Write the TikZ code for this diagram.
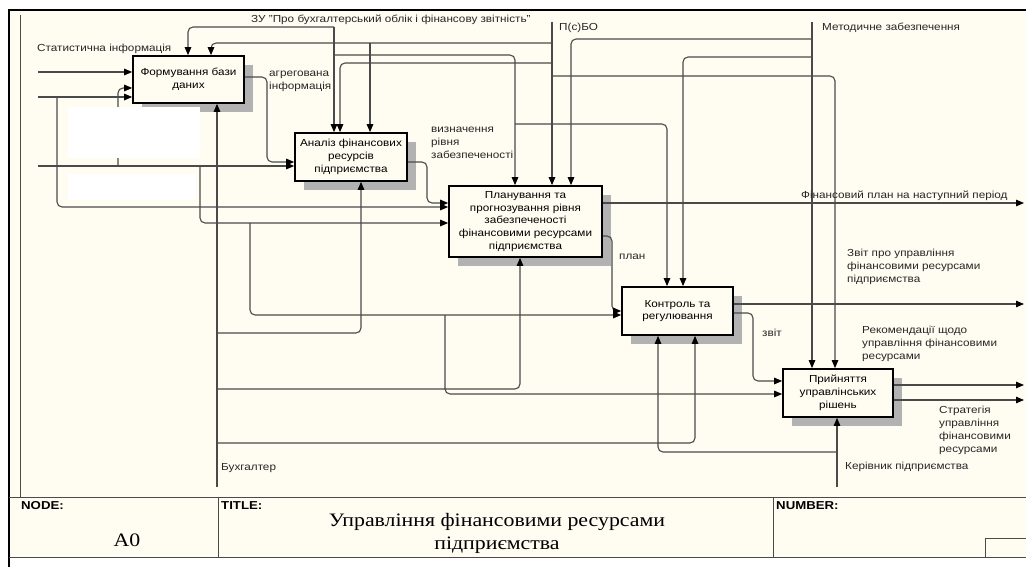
\documentclass[tikz,border=0pt]{standalone}
\usepackage{fontspec}
\setmainfont{Liberation Sans}[FakeStretch=1.15]
\newfontfamily\titlefont{Liberation Serif}[FakeStretch=1.15]
\usetikzlibrary{arrows.meta, shadows}
\definecolor{cPaper}{HTML}{FFFCF1}
\definecolor{cLine}{HTML}{4A4A4A}
\definecolor{cShadow}{HTML}{B2B2B2}
\tikzset{
  font=\fontsize{10.2}{12.5}\selectfont,
  func/.style={draw=black, line width=1.7pt, fill=cPaper, align=center,
    inner sep=2pt, font=\fontsize{10.2}{12.8}\selectfont,
    drop shadow={shadow xshift=9pt, shadow yshift=-9pt, fill=cShadow, opacity=1}},
  flow/.style={draw=cLine, line width=1.1pt, rounded corners=5pt,
    -{Triangle[length=8pt, width=6.5pt, black]}},
  lbl/.style={inner sep=0pt, align=left, text=black!85, font=\fontsize{10.2}{13}\selectfont},
  frame/.style={draw=black, line width=2.2pt},
  innerframe/.style={draw=cLine, line width=0.8pt},
  blockline/.style={draw=cLine, line width=1pt},
  caption/.style={inner sep=0pt, font=\bfseries\fontsize{11.5}{13}\selectfont},
  titletext/.style={inner sep=0pt, align=center, font=\titlefont\fontsize{19}{23}\selectfont},
  redact/.style={fill=white, draw=none},
}

\begin{document}
\begin{tikzpicture}[x=1pt, y=-1pt]

  \useasboundingbox (0,0) rectangle (1026,567);

  % ----------------------------------------------------------------
  % Sheet
  % ----------------------------------------------------------------
  \fill[cPaper] (9,10) rectangle (1026,557);
  \draw[frame] (9,567) -- (9,10) -- (1026,10);
  \draw[innerframe] (20,15) -- (20,497);

  % ----------------------------------------------------------------
  % Functions A1..A5
  % ----------------------------------------------------------------
  \node[func, minimum width=111pt, minimum height=47pt] (dbase) at (188.5,79.5)
    {Формування бази\\ даних};
  \node[func, minimum width=112pt, minimum height=48pt] (analysis) at (351,157)
    {Аналіз фінансових\\ ресурсів\\ підприємства};
  \node[func, minimum width=153pt, minimum height=71pt] (planning) at (525.5,221.5)
    {Планування та\\ прогнозування рівня\\ забезпеченості\\ фінансовими ресурсами\\ підприємства};
  \node[func, minimum width=111pt, minimum height=48pt] (control) at (677.5,311)
    {Контроль та\\ регулювання};
  \node[func, minimum width=110pt, minimum height=48pt] (decision) at (838,393)
    {Прийняття\\ управлінських\\ рішень};

  % ----------------------------------------------------------------
  % Inputs
  % ----------------------------------------------------------------
  \coordinate (statin) at (38,72);
  \coordinate (secin) at (38,97);
  \coordinate (capin) at (38,166);
  \coordinate (secfork) at (57,97);
  \coordinate (capup) at (118,166);
  \coordinate (capdown) at (200,166);
  \coordinate (ctrlfork) at (250,223);
  \coordinate (decfork) at (445,315);

  \draw[flow] (statin) -- (dbase.west |- statin);
  \draw[flow] (secin) -- (dbase.west |- secin);
  \draw[flow] (secfork) |- (planning.west |- 0,207);
  \draw[flow] (capin) -- (analysis.west |- capin);
  \draw[flow] (capup) |- (dbase.west |- 0,88);
  \draw[flow] (capdown) |- (planning.west |- 0,223);
  \draw[flow] (ctrlfork) |- (control.west |- 0,315);
  \draw[flow] (decfork) |- (decision.west |- 0,394);

  % ----------------------------------------------------------------
  % Flows between functions
  % ----------------------------------------------------------------
  \draw[flow] (dbase.east |- 0,77) -- (267,77) -- (267,162) -- (analysis.west |- 0,162);
  \draw[flow] (analysis.east |- 0,162) -- (427,162) -- (427,203) -- (planning.west |- 0,203);
  \draw[flow] (planning.east |- 0,236) -- (612,236) -- (612,311) -- (control.west |- 0,311);
  \draw[flow] (control.east |- 0,313) -- (753,313) -- (753,381) -- (decision.west |- 0,381);

  % ----------------------------------------------------------------
  % Outputs
  % ----------------------------------------------------------------
  \coordinate (planout) at (1024,203);
  \coordinate (reportout) at (1024,304);
  \coordinate (recout) at (1024,385);
  \coordinate (stratout) at (1024,400);

  \draw[flow] (planning.east |- planout) -- (planout);
  \draw[flow] (control.east |- reportout) -- (reportout);
  \draw[flow] (decision.east |- recout) -- (recout);
  \draw[flow] (decision.east |- stratout) -- (stratout);

  % ----------------------------------------------------------------
  % Controls
  % ----------------------------------------------------------------
  \coordinate (zuin) at (334,27);
  \coordinate (zufork) at (334,55);
  \coordinate (zufork2) at (515,124);
  \draw[flow] (zuin) -- (analysis.north -| zuin);
  \draw[flow] (zuin) -| (dbase.north -| 188,0);
  \draw[flow] (zufork) -| (planning.north -| 515,0);
  \draw[flow] (zufork2) -| (control.north -| 667,0);

  \coordinate (psboin) at (552,22);
  \coordinate (psbofork1) at (552,43);
  \coordinate (psbofork2) at (370,43);
  \coordinate (psbofork3) at (552,63);
  \coordinate (psbofork4) at (552,76);
  \draw[flow] (psboin) -- (planning.north -| psboin);
  \draw[flow] (psbofork1) -| (dbase.north -| 211,0);
  \draw[flow] (psbofork2) -- (analysis.north -| psbofork2);
  \draw[flow] (psbofork3) -| (analysis.north -| 340,0);
  \draw[flow] (psbofork4) -| (decision.north -| 835,0);

  \coordinate (metin) at (812,22);
  \coordinate (metfork1) at (812,39);
  \coordinate (metfork2) at (812,57);
  \draw[flow] (metin) -- (decision.north -| metin);
  \draw[flow] (metfork1) -| (planning.north -| 571,0);
  \draw[flow] (metfork2) -| (control.north -| 683,0);

  % ----------------------------------------------------------------
  % Mechanisms
  % ----------------------------------------------------------------
  \coordinate (buhin) at (217,487);
  \coordinate (buhfork1) at (217,333);
  \coordinate (buhfork2) at (217,389);
  \coordinate (buhfork3) at (217,443);
  \draw[flow] (buhin) -- (dbase.south -| buhin);
  \draw[flow] (buhfork1) -| (analysis.south -| 361,0);
  \draw[flow] (buhfork2) -| (planning.south -| 520,0);
  \draw[flow] (buhfork3) -| (control.south -| 695,0);

  \coordinate (kerin) at (837,487);
  \coordinate (kerfork) at (837,452);
  \draw[flow] (kerin) -- (decision.south -| kerin);
  \draw[flow] (kerfork) -| (control.south -| 658,0);

  % hidden labels
  \fill[redact] (68,107) rectangle (200,158);
  \fill[redact] (68,174) rectangle (196,200);

  % ----------------------------------------------------------------
  % Arrow labels
  % ----------------------------------------------------------------
  \node[lbl, anchor=west] (statlbl) at (37,49) {Статистична інформація};
  \node[lbl, anchor=west] (zulbl) at (251,20) {ЗУ "Про бухгалтерський облік і фінансову звітність"};
  \node[lbl, anchor=west] (psbolbl) at (559,28) {П(с)БО};
  \node[lbl, anchor=west] (metlbl) at (822,28) {Методичне забезпечення};
  \node[lbl, anchor=north west] (agrlbl) at (269,71) {агрегована\\ інформація};
  \node[lbl, anchor=north west] (vyzlbl) at (431,127) {визначення\\ рівня\\ забезпеченості};
  \node[lbl, anchor=west] (planlbl) at (619,257) {план};
  \node[lbl, anchor=west] (zvitlbl) at (762,333) {звіт};
  \node[lbl, anchor=west] (fplanlbl) at (801,196) {Фінансовий план на наступний період};
  \node[lbl, anchor=north west] (reportlbl) at (847,249) {Звіт про управління\\ фінансовими ресурсами\\ підприємства};
  \node[lbl, anchor=north west] (reclbl) at (862,326) {Рекомендації щодо\\ управління фінансовими\\ ресурсами};
  \node[lbl, anchor=north west] (stratlbl) at (939,406) {Стратегія\\ управління\\ фінансовими\\ ресурсами};
  \node[lbl, anchor=west] (kerlbl) at (845,467) {Керівник підприємства};
  \node[lbl, anchor=west] (buhlbl) at (221,468) {Бухгалтер};

  % ----------------------------------------------------------------
  % Title block
  % ----------------------------------------------------------------
  \draw[blockline] (9,497) -- (1026,497);
  \draw[blockline] (9,557) -- (1026,557);
  \draw[blockline] (218,497) -- (218,557);
  \draw[blockline] (773,497) -- (773,557);
  \node[caption, anchor=west] (nodecap) at (21,506) {NODE:};
  \node[caption, anchor=west] (titlecap) at (221,506) {TITLE:};
  \node[caption, anchor=west] (numcap) at (776,506) {NUMBER:};
  \node[titletext] (nodeid) at (127,540) {A0};
  \node[titletext] (title) at (497,533) {Управління фінансовими ресурсами\\ підприємства};
  \node[draw=cLine, line width=0.8pt, minimum width=42pt, minimum height=19pt,
    inner sep=0pt] (numbox) at (1006,547.5) {};

\end{tikzpicture}
\end{document}
